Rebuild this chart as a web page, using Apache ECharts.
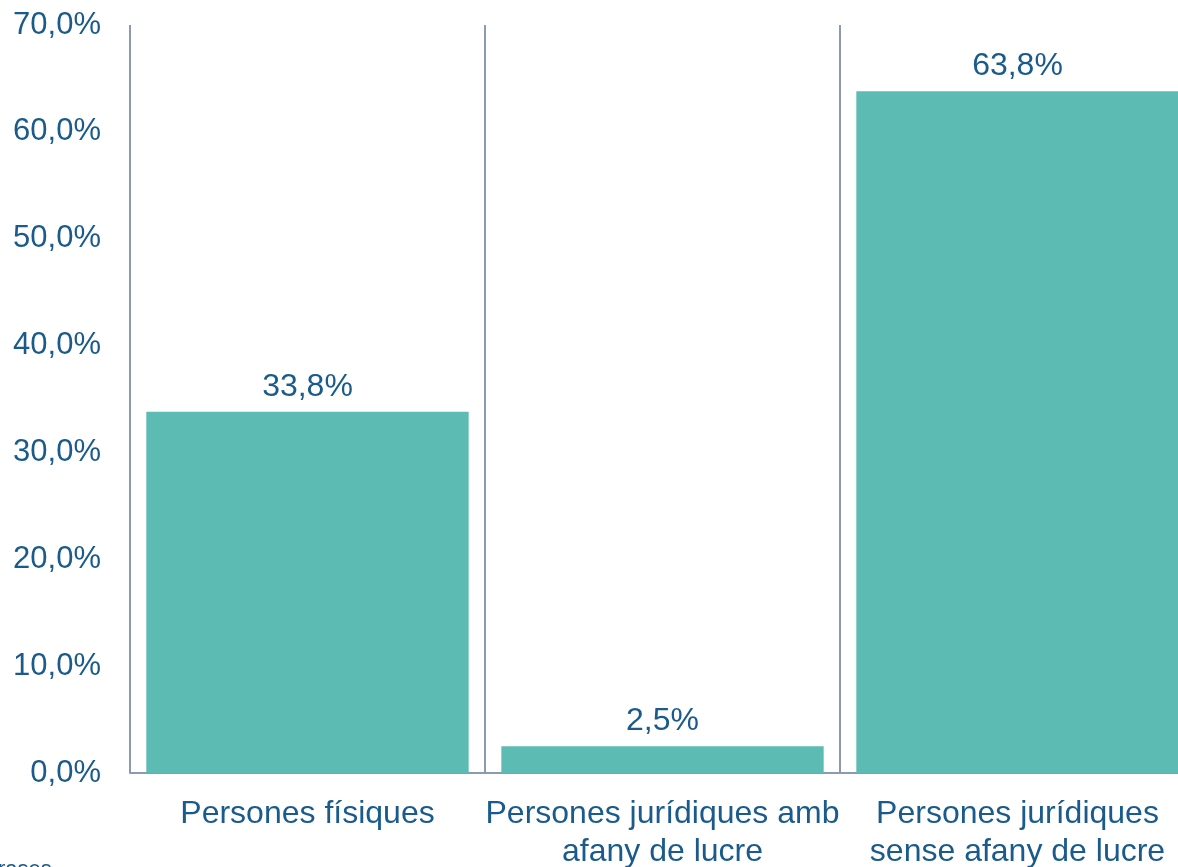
<!DOCTYPE html>
<html>
<head>
<meta charset="utf-8">
<script src="https://cdn.jsdelivr.net/npm/echarts@6/dist/echarts.min.js"></script>
<style>
  html, body { margin: 0; padding: 0; background: #fff; }
  #chart { width: 1178px; height: 867px; }
</style>
</head>
<body>
<div id="chart"></div>
<script>
const categories = ['Persones físiques', 'Persones jurídiques amb\nafany de lucre', 'Persones jurídiques\nsense afany de lucre']
const values = [33.8, 2.5, 63.8]
const yTicks = [0, 10, 20, 30, 40, 50, 60, 70]

const textColor = '#1A5B8C'
const barColor = '#5CBBB3'
const lineColor = '#8C9AAF'
const fontFamily = '"Liberation Sans", Arial, sans-serif'

const fmt = v => v.toFixed(1).replace('.', ',') + '%'

const chart = echarts.init(document.getElementById('chart'))
chart.setOption({
  animation: false,
  // the right edge of the plot lies outside the picture, as in the original
  grid: { left: 130, width: 1065, top: 25, height: 748, outerBoundsMode: 'none' },
  xAxis: {
    type: 'category',
    data: categories,
    axisLine: { show: true, lineStyle: { color: lineColor, width: 2 } },
    axisTick: { show: false },
    splitLine: { show: true, lineStyle: { color: lineColor, width: 2 } },
    axisLabel: {
      color: textColor,
      fontSize: 32,
      fontFamily: fontFamily,
      lineHeight: 38,
      margin: 22,
      interval: 0
    }
  },
  yAxis: {
    type: 'value',
    min: yTicks[0],
    max: yTicks[yTicks.length - 1],
    interval: 10,
    axisLine: { show: false },
    axisTick: { show: false },
    splitLine: { show: false },
    axisLabel: {
      color: textColor,
      fontSize: 31,
      fontFamily: fontFamily,
      margin: 29,
      padding: [6, 0, 0, 0],
      formatter: v => fmt(v)
    }
  },
  series: [{
    type: 'bar',
    data: values,
    barCategoryGap: '9.2%',
    itemStyle: { color: barColor },
    label: {
      show: true,
      position: 'top',
      distance: 9,
      color: textColor,
      fontSize: 32,
      fontFamily: fontFamily,
      formatter: p => fmt(p.value)
    }
  }],
  graphic: [{
    type: 'text',
    left: -2,
    top: 859,
    style: { text: 'rases', fill: textColor, fontSize: 22, fontFamily: fontFamily }
  }]
})
</script>
</body>
</html>
